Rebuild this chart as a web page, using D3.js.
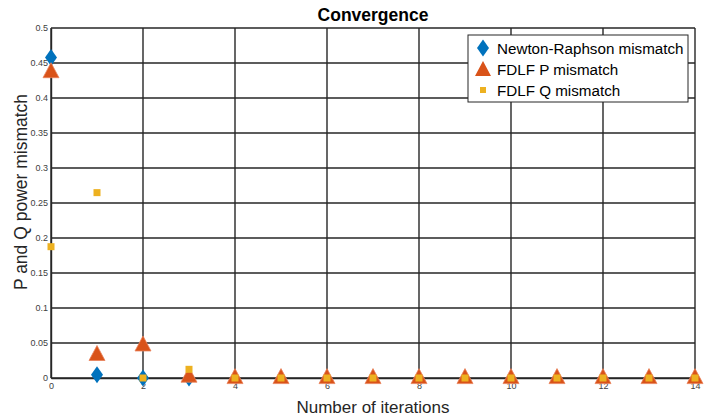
<!DOCTYPE html>
<html>
<head>
<meta charset="utf-8">
<script src="https://cdn.jsdelivr.net/npm/d3@7"></script>
<style>
  body { margin: 0; background: #fff; }
  text { font-family: "Liberation Sans", Arial, Helvetica, sans-serif; }
</style>
</head>
<body>
<div id="chart"></div>
<script>

// iteration index and mismatch values
const iterations = d3.range(0, 15)
const nrMismatch = [0.458, 0.0047, 0.0, 0.0]
const fdlfP = [0.439, 0.035, 0.0486, 0.004, 0.002, 0.002, 0.002, 0.002, 0.002, 0.002, 0.002, 0.002, 0.002, 0.002, 0.002]
const fdlfQ = [0.1876, 0.2648, 0.0, 0.0124, 0, 0, 0, 0, 0, 0, 0, 0, 0, 0, 0]

const xTicks = [0, 2, 4, 6, 8, 10, 12, 14]
const yTicks = [0, 0.05, 0.1, 0.15, 0.2, 0.25, 0.3, 0.35, 0.4, 0.45, 0.5]

const legendLabels = ['Newton-Raphson mismatch', 'FDLF P mismatch', 'FDLF Q mismatch']
const colors = ['#0072BD', '#D95319', '#EDB120']

const W = 713, H = 419
const margin = {top: 28, right: 18, bottom: 41, left: 51}
const width = W - margin.left - margin.right
const height = H - margin.top - margin.bottom

const svg = d3.select('#chart').append('svg')
    .attr('width', W)
    .attr('height', H)

const g = svg.append('g')
    .attr('transform', `translate(${margin.left},${margin.top})`)

const x = d3.scaleLinear().domain([0, 14]).range([0, width])
const y = d3.scaleLinear().domain([0, 0.5]).range([height, 0])

// grid
g.append('g').selectAll('line.vg')
    .data(xTicks)
    .enter().append('line')
    .attr('x1', d => x(d)).attr('x2', d => x(d))
    .attr('y1', 0).attr('y2', height)
    .attr('stroke', '#262626')
    .attr('stroke-width', 1.4)

g.append('g').selectAll('line.hg')
    .data(yTicks)
    .enter().append('line')
    .attr('x1', 0).attr('x2', width)
    .attr('y1', d => y(d)).attr('y2', d => y(d))
    .attr('stroke', '#262626')
    .attr('stroke-width', 1.4)

// axes
const xAxis = g.append('g')
    .attr('transform', `translate(0,${height})`)
    .call(d3.axisBottom(x).tickValues(xTicks).tickSize(0).tickPadding(5).tickFormat(d3.format('d')))
xAxis.select('.domain').attr('stroke', '#262626').attr('stroke-width', 1.4)
xAxis.selectAll('text').attr('fill', '#404040').style('font-size', '9px')

const yAxis = g.append('g')
    .call(d3.axisLeft(y).tickValues(yTicks).tickSize(0).tickPadding(3).tickFormat(d => d === 0 ? '0' : d3.format('')(+d.toFixed(2))))
yAxis.select('.domain').attr('stroke', '#262626').attr('stroke-width', 1.4)
yAxis.selectAll('text').attr('fill', '#404040').style('font-size', '9px')

// marker shapes (MATLAB-like)
const diamondPath = 'M0,-8.5L6,0L0,8.5L-6,0Z'
const trianglePath = 'M0,-8L8,7L-8,7Z'

g.append('g').selectAll('path.nr')
    .data(nrMismatch)
    .enter().append('path')
    .attr('d', diamondPath)
    .attr('transform', (d, i) => `translate(${x(iterations[i])},${y(d)})`)
    .attr('fill', colors[0])

g.append('g').selectAll('path.p')
    .data(fdlfP)
    .enter().append('path')
    .attr('d', trianglePath)
    .attr('transform', (d, i) => `translate(${x(iterations[i])},${y(d)})`)
    .attr('fill', colors[1])
    .attr('stroke', '#e8825a')
    .attr('stroke-width', 0.8)

g.append('g').selectAll('rect.q')
    .data(fdlfQ)
    .enter().append('rect')
    .attr('x', (d, i) => x(iterations[i]) - 3.5)
    .attr('y', d => y(d) - 3.5)
    .attr('width', 7).attr('height', 7)
    .attr('fill', colors[2])

// title and labels
svg.append('text')
    .attr('x', margin.left + width / 2).attr('y', 21)
    .attr('text-anchor', 'middle')
    .style('font-size', '17.5px').style('font-weight', 'bold')
    .attr('fill', '#000')
    .text('Convergence')

svg.append('text')
    .attr('x', margin.left + width / 2).attr('y', 413)
    .attr('text-anchor', 'middle')
    .style('font-size', '17px')
    .attr('fill', '#262626')
    .text('Number of iterations')

svg.append('text')
    .attr('transform', `translate(27,192) rotate(-90)`)
    .attr('text-anchor', 'middle')
    .style('font-size', '17.5px')
    .attr('fill', '#262626')
    .text('P and Q power mismatch')

// legend
const lg = svg.append('g').attr('transform', 'translate(468,35)')
lg.append('rect')
    .attr('width', 220).attr('height', 67)
    .attr('fill', '#fff')
    .attr('stroke', '#262626')
    .attr('stroke-width', 1)

const rowY = [13, 34, 55]
lg.append('path').attr('d', diamondPath)
    .attr('transform', `translate(15,${rowY[0]})`)
    .attr('fill', colors[0])
lg.append('path').attr('d', trianglePath)
    .attr('transform', `translate(15,${rowY[1]})`)
    .attr('fill', colors[1])
lg.append('rect')
    .attr('x', 12).attr('y', rowY[2] - 3)
    .attr('width', 6).attr('height', 6)
    .attr('fill', colors[2])

lg.selectAll('text.lab')
    .data(legendLabels)
    .enter().append('text')
    .attr('x', 29)
    .attr('y', (d, i) => rowY[i] + 5.5)
    .style('font-size', '15.2px')
    .attr('fill', '#000')
    .text(d => d)

</script>
</body>
</html>
